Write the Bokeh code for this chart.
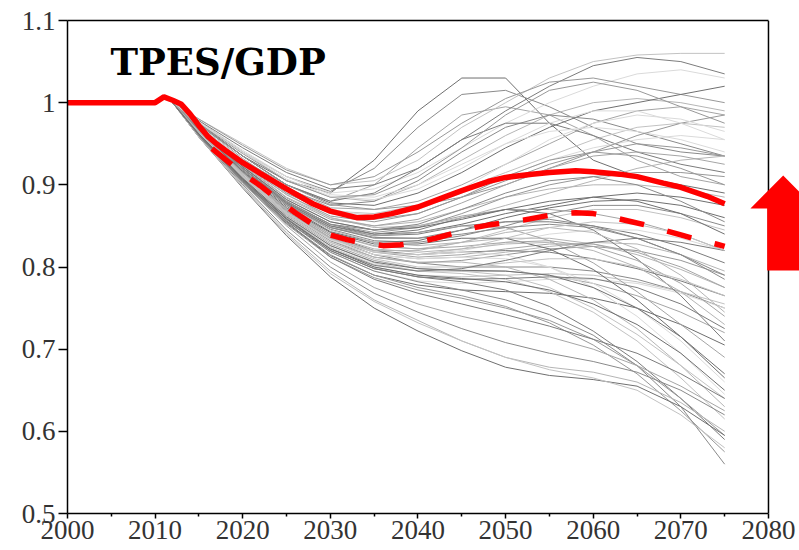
from bokeh.plotting import figure
from bokeh.models import (ColumnDataSource, FixedTicker, Label, PolyAnnotation, Range1d,
                          LinearAxis, Span)
from bokeh.embed import file_html
from bokeh.resources import INLINE

# ---------------- data ----------------
years = [2012, 2015, 2020, 2025, 2030, 2035, 2040, 2045, 2050, 2055, 2060, 2065, 2070, 2075]

gray_bump = [
    [1.0, 0.975, 0.935, 0.905, 0.890, 0.930, 0.990, 1.030, 1.030, 0.975, 0.930, 0.910, 0.900, 0.890],
    [1.0, 0.978, 0.940, 0.910, 0.892, 0.920, 0.970, 1.010, 1.015, 0.995, 0.970, 0.950, 0.940, 0.935],
    [1.0, 0.972, 0.930, 0.900, 0.880, 0.900, 0.945, 0.985, 0.995, 0.985, 0.960, 0.930, 0.910, 0.900],
]
gray_high = [
    [1.0, 0.980, 0.950, 0.920, 0.900, 0.905, 0.930, 0.970, 1.000, 1.030, 1.050, 1.058, 1.060, 1.060],
    [1.0, 0.978, 0.945, 0.915, 0.895, 0.900, 0.920, 0.955, 0.990, 1.020, 1.045, 1.055, 1.050, 1.035],
    [1.0, 0.975, 0.940, 0.910, 0.890, 0.895, 0.915, 0.945, 0.975, 1.000, 1.020, 1.035, 1.040, 1.030],
    [1.0, 0.980, 0.948, 0.918, 0.900, 0.910, 0.940, 0.975, 1.005, 1.025, 1.030, 1.020, 1.010, 1.000],
]
gray_upper = [
    [1.0, 0.976, 0.940, 0.905, 0.885, 0.880, 0.900, 0.930, 0.960, 0.985, 1.000, 1.005, 1.000, 0.990],
    [1.0, 0.975, 0.935, 0.900, 0.878, 0.875, 0.890, 0.915, 0.945, 0.970, 0.990, 1.000, 1.010, 1.020],
    [1.0, 0.972, 0.930, 0.895, 0.875, 0.880, 0.905, 0.940, 0.970, 0.985, 0.980, 0.965, 0.950, 0.935],
    [1.0, 0.974, 0.932, 0.897, 0.872, 0.870, 0.880, 0.900, 0.925, 0.950, 0.975, 0.990, 0.995, 0.985],
    [1.0, 0.970, 0.928, 0.890, 0.868, 0.865, 0.875, 0.895, 0.915, 0.935, 0.955, 0.970, 0.975, 0.970],
    [1.0, 0.973, 0.935, 0.900, 0.880, 0.890, 0.920, 0.955, 0.975, 0.975, 0.960, 0.940, 0.925, 0.915],
    [1.0, 0.971, 0.930, 0.895, 0.870, 0.862, 0.870, 0.890, 0.910, 0.930, 0.945, 0.955, 0.960, 0.955],
    [1.0, 0.969, 0.925, 0.888, 0.862, 0.855, 0.865, 0.885, 0.905, 0.925, 0.940, 0.950, 0.945, 0.935],
]
gray_mid = [
    [1.0, 0.970, 0.925, 0.885, 0.860, 0.850, 0.855, 0.870, 0.885, 0.895, 0.900, 0.900, 0.895, 0.885],
    [1.0, 0.968, 0.920, 0.880, 0.852, 0.840, 0.842, 0.852, 0.865, 0.875, 0.885, 0.890, 0.885, 0.875],
    [1.0, 0.966, 0.918, 0.876, 0.846, 0.832, 0.830, 0.838, 0.850, 0.865, 0.875, 0.875, 0.865, 0.850],
    [1.0, 0.970, 0.923, 0.882, 0.855, 0.845, 0.850, 0.862, 0.870, 0.870, 0.865, 0.855, 0.840, 0.820],
    [1.0, 0.965, 0.915, 0.872, 0.840, 0.825, 0.822, 0.830, 0.845, 0.860, 0.870, 0.870, 0.860, 0.845],
    [1.0, 0.967, 0.920, 0.878, 0.850, 0.838, 0.840, 0.850, 0.855, 0.855, 0.850, 0.840, 0.825, 0.805],
    [1.0, 0.964, 0.912, 0.868, 0.835, 0.818, 0.815, 0.820, 0.830, 0.840, 0.845, 0.845, 0.835, 0.820],
    [1.0, 0.969, 0.922, 0.880, 0.852, 0.842, 0.848, 0.865, 0.885, 0.900, 0.910, 0.915, 0.915, 0.910],
    [1.0, 0.963, 0.910, 0.865, 0.832, 0.815, 0.810, 0.812, 0.818, 0.825, 0.830, 0.828, 0.815, 0.795],
    [1.0, 0.966, 0.917, 0.874, 0.843, 0.830, 0.832, 0.845, 0.860, 0.872, 0.880, 0.882, 0.875, 0.860],
]
gray_decline = [
    [1.0, 0.965, 0.913, 0.868, 0.835, 0.815, 0.805, 0.800, 0.800, 0.800, 0.795, 0.785, 0.770, 0.750],
    [1.0, 0.963, 0.910, 0.863, 0.828, 0.808, 0.798, 0.795, 0.795, 0.790, 0.780, 0.765, 0.745, 0.720],
    [1.0, 0.962, 0.908, 0.860, 0.823, 0.800, 0.790, 0.788, 0.790, 0.792, 0.790, 0.782, 0.770, 0.755],
    [1.0, 0.966, 0.915, 0.870, 0.838, 0.820, 0.815, 0.818, 0.820, 0.818, 0.810, 0.798, 0.783, 0.765],
    [1.0, 0.961, 0.905, 0.856, 0.818, 0.795, 0.783, 0.780, 0.782, 0.785, 0.785, 0.780, 0.768, 0.750],
    [1.0, 0.964, 0.912, 0.866, 0.832, 0.812, 0.805, 0.808, 0.815, 0.822, 0.825, 0.820, 0.808, 0.790],
    [1.0, 0.967, 0.918, 0.875, 0.845, 0.830, 0.826, 0.830, 0.835, 0.835, 0.828, 0.815, 0.797, 0.775],
    [1.0, 0.960, 0.903, 0.853, 0.814, 0.790, 0.778, 0.772, 0.770, 0.768, 0.762, 0.750, 0.730, 0.705],
    [1.0, 0.968, 0.920, 0.877, 0.848, 0.835, 0.835, 0.845, 0.855, 0.858, 0.850, 0.835, 0.815, 0.790],
    [1.0, 0.965, 0.914, 0.869, 0.836, 0.818, 0.812, 0.815, 0.822, 0.828, 0.828, 0.818, 0.800, 0.775],
]
gray_steep = [
    [1.0, 0.963, 0.910, 0.862, 0.826, 0.805, 0.795, 0.792, 0.785, 0.770, 0.745, 0.710, 0.665, 0.615],
    [1.0, 0.962, 0.907, 0.858, 0.820, 0.798, 0.788, 0.782, 0.772, 0.752, 0.722, 0.685, 0.640, 0.590],
    [1.0, 0.965, 0.913, 0.867, 0.834, 0.818, 0.815, 0.818, 0.815, 0.800, 0.775, 0.740, 0.695, 0.645],
    [1.0, 0.961, 0.904, 0.854, 0.815, 0.790, 0.775, 0.765, 0.752, 0.732, 0.705, 0.670, 0.625, 0.575],
    [1.0, 0.964, 0.911, 0.864, 0.830, 0.812, 0.806, 0.806, 0.800, 0.785, 0.760, 0.725, 0.680, 0.630],
    [1.0, 0.966, 0.916, 0.872, 0.842, 0.828, 0.828, 0.835, 0.835, 0.822, 0.797, 0.760, 0.715, 0.665],
    [1.0, 0.962, 0.906, 0.856, 0.818, 0.795, 0.782, 0.772, 0.760, 0.742, 0.717, 0.680, 0.630, 0.560],
    [1.0, 0.967, 0.918, 0.876, 0.848, 0.838, 0.842, 0.850, 0.848, 0.832, 0.805, 0.770, 0.730, 0.690],
    [1.0, 0.963, 0.909, 0.860, 0.824, 0.803, 0.795, 0.795, 0.790, 0.775, 0.750, 0.718, 0.680, 0.640],
    [1.0, 0.968, 0.920, 0.878, 0.850, 0.840, 0.845, 0.860, 0.870, 0.865, 0.845, 0.810, 0.765, 0.710],
    [1.0, 0.964, 0.912, 0.866, 0.833, 0.815, 0.810, 0.812, 0.810, 0.800, 0.780, 0.750, 0.710, 0.660],
    [1.0, 0.960, 0.902, 0.852, 0.812, 0.787, 0.772, 0.762, 0.750, 0.735, 0.712, 0.680, 0.640, 0.595],
]
gray_low = [
    [1.0, 0.958, 0.898, 0.842, 0.795, 0.760, 0.735, 0.710, 0.690, 0.678, 0.672, 0.660, 0.635, 0.600],
    [1.0, 0.958, 0.896, 0.838, 0.788, 0.750, 0.722, 0.698, 0.678, 0.668, 0.663, 0.655, 0.630, 0.595],
    [1.0, 0.959, 0.900, 0.845, 0.800, 0.768, 0.745, 0.725, 0.708, 0.695, 0.685, 0.672, 0.650, 0.620],
    [1.0, 0.960, 0.902, 0.850, 0.806, 0.775, 0.755, 0.740, 0.728, 0.715, 0.700, 0.680, 0.655, 0.625],
    [1.0, 0.958, 0.897, 0.840, 0.792, 0.758, 0.732, 0.710, 0.690, 0.675, 0.665, 0.650, 0.620, 0.580],
    [1.0, 0.961, 0.905, 0.855, 0.812, 0.785, 0.768, 0.755, 0.742, 0.728, 0.712, 0.695, 0.670, 0.640],
]
gray_extra = [
    [1.0, 0.977, 0.942, 0.910, 0.888, 0.885, 0.900, 0.925, 0.950, 0.965, 0.970, 0.965, 0.955, 0.940],
    [1.0, 0.974, 0.935, 0.900, 0.876, 0.870, 0.875, 0.885, 0.900, 0.920, 0.940, 0.960, 0.975, 0.985],
    [1.0, 0.970, 0.927, 0.888, 0.860, 0.848, 0.850, 0.860, 0.875, 0.890, 0.905, 0.920, 0.930, 0.935],
    [1.0, 0.968, 0.922, 0.882, 0.855, 0.845, 0.848, 0.858, 0.870, 0.880, 0.885, 0.880, 0.865, 0.840],
    [1.0, 0.966, 0.918, 0.876, 0.848, 0.836, 0.835, 0.840, 0.848, 0.852, 0.848, 0.835, 0.815, 0.785],
    [1.0, 0.965, 0.915, 0.871, 0.840, 0.826, 0.822, 0.825, 0.830, 0.832, 0.825, 0.808, 0.780, 0.740],
    [1.0, 0.963, 0.910, 0.864, 0.830, 0.810, 0.800, 0.800, 0.805, 0.810, 0.810, 0.800, 0.785, 0.765],
    [1.0, 0.961, 0.906, 0.858, 0.822, 0.802, 0.795, 0.798, 0.808, 0.820, 0.830, 0.835, 0.830, 0.820],
    [1.0, 0.972, 0.930, 0.892, 0.868, 0.862, 0.872, 0.895, 0.925, 0.955, 0.975, 0.985, 0.980, 0.965],
    [1.0, 0.975, 0.938, 0.905, 0.885, 0.888, 0.910, 0.945, 0.985, 1.015, 1.025, 1.015, 0.995, 0.975],
    [1.0, 0.964, 0.912, 0.867, 0.835, 0.820, 0.820, 0.830, 0.842, 0.848, 0.842, 0.822, 0.790, 0.745],
    [1.0, 0.962, 0.908, 0.861, 0.826, 0.806, 0.798, 0.796, 0.795, 0.790, 0.775, 0.750, 0.715, 0.670],
    [1.0, 0.967, 0.920, 0.879, 0.852, 0.845, 0.852, 0.870, 0.890, 0.905, 0.910, 0.900, 0.880, 0.855],
    [1.0, 0.969, 0.924, 0.884, 0.858, 0.850, 0.858, 0.878, 0.900, 0.920, 0.935, 0.940, 0.935, 0.925],
    [1.0, 0.963, 0.911, 0.866, 0.834, 0.818, 0.815, 0.822, 0.835, 0.848, 0.855, 0.852, 0.840, 0.820],
    [1.0, 0.960, 0.904, 0.856, 0.820, 0.798, 0.788, 0.785, 0.786, 0.788, 0.786, 0.775, 0.755, 0.725],
    [1.0, 0.976, 0.940, 0.907, 0.886, 0.882, 0.895, 0.920, 0.950, 0.975, 0.990, 0.990, 0.975, 0.955],
    [1.0, 0.971, 0.928, 0.890, 0.865, 0.858, 0.865, 0.885, 0.910, 0.930, 0.940, 0.935, 0.920, 0.900],
    [1.0, 0.965, 0.914, 0.870, 0.838, 0.822, 0.818, 0.822, 0.828, 0.830, 0.820, 0.800, 0.770, 0.730],
    [1.0, 0.962, 0.907, 0.859, 0.822, 0.800, 0.790, 0.786, 0.782, 0.772, 0.755, 0.730, 0.695, 0.650],
]

red_years = [2000, 2005, 2010, 2011, 2012, 2013, 2014, 2015, 2016, 2017, 2018, 2020, 2022, 2025,
             2028, 2030, 2033, 2035, 2037, 2040, 2043, 2045, 2048, 2050, 2053, 2055, 2058, 2060,
             2063, 2065, 2068, 2070, 2073, 2075]
red_values = [1.0, 1.0, 1.0, 1.007, 1.003, 0.998, 0.986, 0.972, 0.959, 0.950, 0.942, 0.927, 0.914, 0.895,
              0.877, 0.868, 0.860, 0.861, 0.865, 0.873, 0.885, 0.893, 0.904, 0.909, 0.913, 0.915, 0.917, 0.916,
              0.913, 0.910, 0.902, 0.897, 0.886, 0.877]

dash_years = [2016.5, 2018, 2020, 2022, 2024, 2026, 2028, 2030, 2032, 2034, 2036, 2038, 2040, 2042,
              2044, 2046, 2048, 2050, 2052, 2054, 2056, 2058, 2060, 2062, 2064, 2066, 2068, 2070,
              2072, 2074, 2075]
dash_values = [0.944, 0.931, 0.914, 0.899, 0.882, 0.866, 0.852, 0.839, 0.833, 0.829, 0.826, 0.827, 0.830, 0.835,
               0.841, 0.847, 0.851, 0.854, 0.857, 0.861, 0.865, 0.866, 0.865, 0.861, 0.856, 0.851, 0.845, 0.839,
               0.833, 0.828, 0.825]

x_ticks = [2000, 2010, 2020, 2030, 2040, 2050, 2060, 2070, 2080]
x_minor_ticks = [2005, 2015, 2025, 2035, 2045, 2055, 2065, 2075]
y_ticks = [0.5, 0.6, 0.7, 0.8, 0.9, 1.0, 1.1]
y_tick_labels = ["0.5", "0.6", "0.7", "0.8", "0.9", "1", "1.1"]

title_text = "TPES/GDP"

# ---------------- styles / layout ----------------
shades = ["#6f6f6f", "#8a8a8a", "#a5a5a5", "#c2c2c2", "#7c7c7c", "#dadada", "#989898", "#b5b5b5"]
axis_start, axis_end = 2000, 2080
view_end = 2083.54          # frame extends past 2080 so the arrow can sit over the right border
arrow_xs = [2081.68, 2085.42, 2083.51, 2083.51, 2079.85, 2079.85, 2077.94]
arrow_ys = [0.9114, 0.8712, 0.8712, 0.7957, 0.7957, 0.8712, 0.8712]

all_gray = gray_bump + gray_high + gray_upper + gray_mid + gray_decline + gray_steep + gray_low + gray_extra
gray_colors = [shades[i % len(shades)] for i in range(len(all_gray))]

p = figure(width=799, height=550, output_backend="svg", toolbar_location=None,
           x_range=Range1d(axis_start, view_end), y_range=Range1d(0.5, 1.1),
           min_border_left=67, min_border_right=0, min_border_top=20, min_border_bottom=37)

p.background_fill_color = "white"
p.border_fill_color = "white"
p.xgrid.visible = False
p.ygrid.visible = False
p.outline_line_color = None

src = ColumnDataSource(dict(xs=[years] * len(all_gray), ys=all_gray, color=gray_colors))
p.multi_line(xs="xs", ys="ys", line_color="color", line_width=1, source=src)

p.line(red_years, red_values, line_color="#ff0000", line_width=5.5)
p.line(dash_years, dash_values, line_color="#ff0000", line_width=5.5, line_dash="25 24")

# axes
p.xaxis.ticker = FixedTicker(ticks=x_ticks, minor_ticks=x_minor_ticks)
p.xaxis.bounds = (axis_start, axis_end)
p.yaxis.ticker = FixedTicker(ticks=y_ticks, minor_ticks=[])
p.yaxis.major_label_overrides = {t: lab for t, lab in zip(y_ticks, y_tick_labels)}

for ax in (p.xaxis[0], p.yaxis[0]):
    ax.axis_line_color = "black"
    ax.axis_line_width = 1.5
    ax.major_tick_line_color = "black"
    ax.major_tick_line_width = 1.5
    ax.minor_tick_line_color = "black"
    ax.minor_tick_line_width = 1.5
    ax.major_tick_in = 0
    ax.minor_tick_in = 0
    ax.major_label_text_font = "Liberation Serif"
    ax.major_label_text_font_size = "27px"
    ax.major_label_text_color = "#333333"

p.xaxis.major_tick_out = 5
p.xaxis.minor_tick_out = 3
p.xaxis.major_label_standoff = 2
p.yaxis.major_tick_out = 9
p.yaxis.minor_tick_out = 0
p.yaxis.major_label_standoff = 3

# top border as an axis without ticks
top_axis = LinearAxis(ticker=FixedTicker(ticks=[], minor_ticks=[]), bounds=(axis_start, axis_end),
                      axis_line_color="black", axis_line_width=1.5,
                      major_tick_out=0, major_tick_in=0, minor_tick_out=0, minor_tick_in=0)
p.add_layout(top_axis, "above")

# right border of the box at 2080
p.add_layout(Span(location=axis_end, dimension="height", line_color="black", line_width=1.5))

p.add_layout(Label(x=2004.9, y=1.049, text=title_text, text_font="DejaVu Serif",
                   text_font_style="bold", text_font_size="37px", text_color="black",
                   text_baseline="alphabetic"))

p.add_layout(PolyAnnotation(xs=arrow_xs, ys=arrow_ys, fill_color="#ff0000", fill_alpha=1.0,
                            line_color=None))

open("out.html", "w").write(file_html(p, INLINE))
